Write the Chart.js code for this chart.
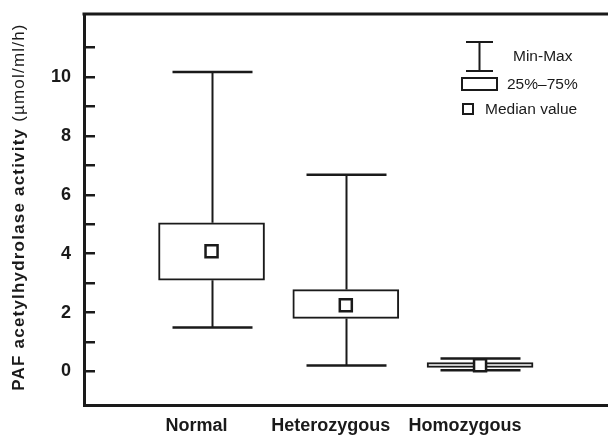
<!DOCTYPE html>
<html>
<head>
<meta charset="utf-8">
<script src="https://cdn.jsdelivr.net/npm/chart.js@4"></script>
<style>
html,body{margin:0;padding:0;background:#fff;}
#wrap{position:relative;width:608px;height:443px;}
</style>
</head>
<body>
<div id="wrap"><canvas id="c" width="608" height="443"></canvas></div>
<script>
// ---- data ----
const categories = ['Normal', 'Heterozygous', 'Homozygous'];
const minValues = [1.49, 0.20, 0.04];
const q1Values = [3.10, 1.80, 0.14];
const medianValues = [4.08, 2.25, 0.21];
const q3Values = [5.05, 2.78, 0.30];
const maxValues = [10.17, 6.68, 0.44];
const yTickLabels = [0, 2, 4, 6, 8, 10];
const yTickMarks = [0, 1, 2, 3, 4, 5, 6, 7, 8, 9, 10, 11];
const yTitleMain = 'PAF acetylhydrolase activity ';
const yTitleUnit = '(\u00b5mol/ml/h)';
const legendItems = ['Min-Max', '25%\u201375%', 'Median value'];

const INK = '#1a1a1a';
const FONT = '"Liberation Sans", Arial, Helvetica, sans-serif';

const boxData = categories.map((c, i) => ({ x: i + 1, y: [q1Values[i], q3Values[i]] }));
const medianData = categories.map((c, i) => ({ x: i + 1, y: medianValues[i] }));

const whiskerPlugin = {
  id: 'whiskers',
  beforeDatasetsDraw(chart) {
    const { ctx, scales: { x, y } } = chart;
    ctx.save();
    ctx.strokeStyle = INK;
    ctx.lineCap = 'butt';
    categories.forEach((c, i) => {
      const cx = Math.round(x.getPixelForValue(i + 1)) + 0.5;
      const pMin = y.getPixelForValue(minValues[i]);
      const pMax = y.getPixelForValue(maxValues[i]);
      const pQ1 = y.getPixelForValue(q1Values[i]);
      const pQ3 = y.getPixelForValue(q3Values[i]);
      ctx.lineWidth = 2;
      ctx.beginPath();
      ctx.moveTo(cx, pMax); ctx.lineTo(cx, pQ3);
      ctx.moveTo(cx, pQ1); ctx.lineTo(cx, pMin);
      ctx.stroke();
      ctx.lineWidth = 2.5;
      const half = 40;
      ctx.beginPath();
      ctx.moveTo(cx - half, pMax); ctx.lineTo(cx + half, pMax);
      ctx.moveTo(cx - half, pMin); ctx.lineTo(cx + half, pMin);
      ctx.stroke();
    });
    ctx.restore();
  }
};

const framePlugin = {
  id: 'frame',
  afterDraw(chart) {
    const { ctx, chartArea } = chart;
    ctx.save();
    ctx.strokeStyle = INK;
    ctx.lineWidth = 3;
    ctx.beginPath();
    ctx.moveTo(chartArea.left - 1.5, chartArea.top);
    ctx.lineTo(chart.width, chartArea.top);
    ctx.stroke();
    ctx.restore();
  }
};

const titlePlugin = {
  id: 'ytitle',
  afterDraw(chart) {
    const { ctx } = chart;
    ctx.save();
    ctx.translate(19, 207);
    ctx.rotate(-Math.PI / 2);
    ctx.fillStyle = INK;
    ctx.textBaseline = 'middle';
    ctx.letterSpacing = '1.2px';
    const fb = 'bold 17px ' + FONT;
    const fn = '17px ' + FONT;
    ctx.font = fb;
    const w1 = ctx.measureText(yTitleMain).width;
    ctx.font = fn;
    const w2 = ctx.measureText(yTitleUnit).width;
    const start = -(w1 + w2) / 2;
    ctx.textAlign = 'left';
    ctx.font = fb;
    ctx.fillText(yTitleMain, start, 0);
    ctx.font = fn;
    ctx.fillText(yTitleUnit, start + w1, 0);
    ctx.restore();
  }
};

const legendPlugin = {
  id: 'customLegend',
  afterDraw(chart) {
    const { ctx } = chart;
    ctx.save();
    ctx.strokeStyle = INK;
    ctx.fillStyle = INK;
    ctx.lineWidth = 2;
    ctx.beginPath();
    ctx.moveTo(466, 42); ctx.lineTo(493, 42);
    ctx.moveTo(466, 71); ctx.lineTo(493, 71);
    ctx.moveTo(479.5, 42); ctx.lineTo(479.5, 71);
    ctx.stroke();
    ctx.strokeRect(462, 78, 35, 12);
    ctx.strokeRect(463, 104, 10, 10);
    ctx.font = '15.5px ' + FONT;
    ctx.textBaseline = 'middle';
    ctx.textAlign = 'left';
    ctx.fillText(legendItems[0], 513, 57);
    ctx.fillText(legendItems[1], 507, 85);
    ctx.fillText(legendItems[2], 485, 110);
    ctx.restore();
  }
};

new Chart(document.getElementById('c'), {
  type: 'bar',
  data: {
    datasets: [
      {
        type: 'bar',
        data: boxData,
        backgroundColor: '#ffffff',
        borderColor: INK,
        borderWidth: 2,
        borderSkipped: false,
        barThickness: 106,
        order: 2
      },
      {
        type: 'scatter',
        data: medianData,
        pointStyle: 'rect',
        pointRadius: 8.5,
        pointHoverRadius: 8.5,
        pointBackgroundColor: '#ffffff',
        pointBorderColor: INK,
        pointBorderWidth: 2.5,
        order: 1
      }
    ]
  },
  options: {
    responsive: false,
    animation: false,
    events: [],
    layout: { autoPadding: false, padding: { top: 14, right: 0, left: 0, bottom: 0 } },
    plugins: { legend: { display: false }, tooltip: { enabled: false } },
    scales: {
      x: {
        type: 'linear',
        offset: false,
        min: 0.05,
        max: 3.953,
        afterBuildTicks(scale) {
          scale.ticks = categories.map((c, i) => ({ value: i + 1 }));
        },
        afterFit(scale) {
          scale.height = 38;
          scale.paddingLeft = 0; scale.paddingRight = 0;
        },
        grid: { display: false, drawTicks: false },
        border: { display: true, color: INK, width: 3 },
        ticks: {
          callback: (v) => categories[Math.round(v) - 1] || '',
          font: { family: FONT, size: 18, weight: 'bold' },
          color: INK,
          padding: 10,
          labelOffset: -15,
          maxRotation: 0,
          autoSkip: false
        }
      },
      y: {
        type: 'linear',
        min: -1.14,
        max: 12.14,
        afterBuildTicks(scale) {
          scale.ticks = yTickMarks.map(v => ({ value: v }));
        },
        afterFit(scale) {
          scale.width = 84;
          scale.paddingTop = 0; scale.paddingBottom = 0;
        },
        grid: { drawOnChartArea: false, drawTicks: true, tickLength: -11, color: INK, tickColor: INK, lineWidth: 2.5 },
        border: { display: true, color: INK, width: 3 },
        ticks: {
          callback: (v) => yTickLabels.includes(v) ? String(v) : '',
          font: { family: FONT, size: 18, weight: 'bold' },
          color: INK,
          padding: 24,
          autoSkip: false
        }
      }
    }
  },
  plugins: [whiskerPlugin, framePlugin, titlePlugin, legendPlugin]
});
</script>
</body>
</html>
